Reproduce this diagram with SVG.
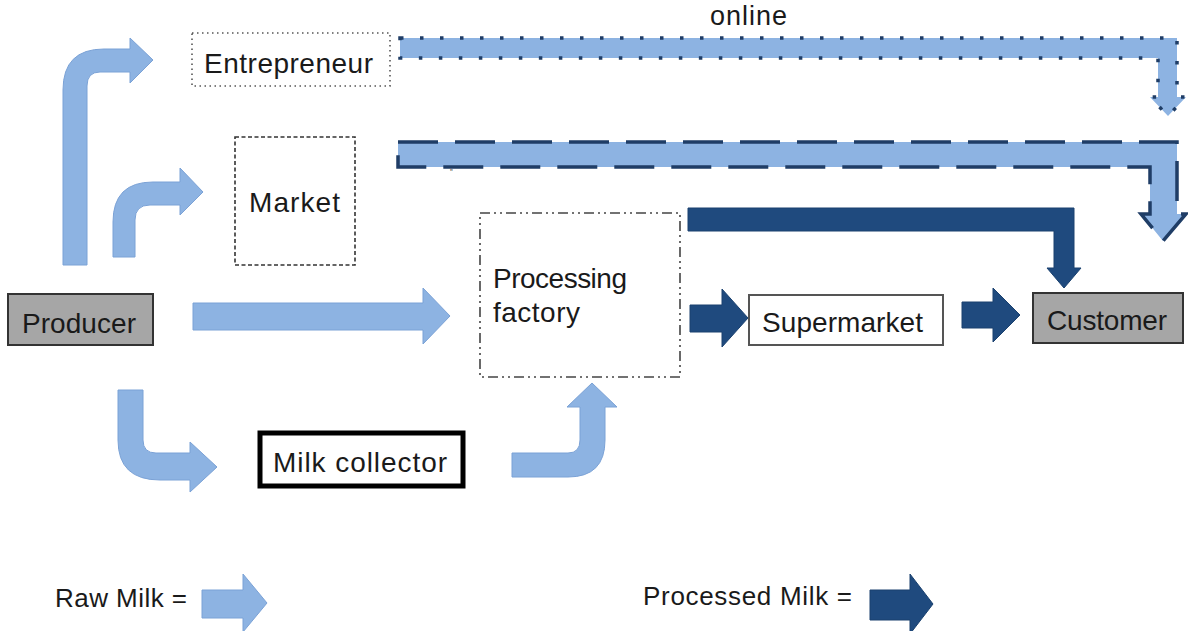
<svg xmlns="http://www.w3.org/2000/svg" width="1188" height="631" viewBox="0 0 1188 631">
<style>
.t{font-family:"Liberation Sans",Arial,sans-serif;fill:#1a1a1a}
.box{fill:#ffffff}
.raw{fill:#8db3e2;stroke:#7ba2d6;stroke-width:1}
.proc{fill:#1f4a7e;stroke:#1a416f;stroke-width:1}
.grey{fill:#a6a6a6;stroke:#333;stroke-width:2}
</style>
<rect width="1188" height="631" fill="#ffffff"/>
<g id="connectors">
  <path class="raw" d="M63,265 L63,90 Q63,49 104,49 L130,49 L130,38 L153,60 L130,83 L130,72 L100,72 Q87,72 87,86 L87,265 Z"/>
  <path class="raw" d="M113,257 L113,222 Q113,182 153,182 L180,182 L180,168 L203,192 L180,215 L180,205 L150,205 Q135,205 135,220 L135,257 Z"/>
  <path class="raw" d="M193,303 L423,303 L423,288 L450,316 L423,344 L423,330 L193,330 Z"/>
  <path class="raw" d="M118,390 L143,390 L143,440 Q143,453 156,453 L190,453 L190,442 L217,467 L190,492 L190,480 L160,480 Q118,480 118,440 Z"/>
  <path class="raw" d="M512,453 L568,453 Q580,453 580,440 L580,407 L567,407 L592,383 L617,407 L605,407 L605,440 Q605,477 568,477 L512,477 Z"/>
  <path class="proc" d="M690,305 L722,305 L722,289 L748,318 L722,347 L722,332 L690,332 Z"/>
  <path class="proc" d="M962,302 L993,302 L993,288 L1020,315 L993,342 L993,328 L962,328 Z"/>
  <path class="proc" d="M688,208 L1074,208 L1074,268 L1081,268 L1064,288 L1047,268 L1054,268 L1054,231 L688,231 Z"/>
  <path d="M400,38 L1177,38 L1177,97 L1186,97 L1168,116 L1150,97 L1158,97 L1158,58 L400,58 Z" fill="#8db3e2" stroke="#1f3d66" stroke-width="3.5" stroke-dasharray="3.5 16.5"/>
  <path d="M398,142 L1177,142 L1177,214 L1186,214 L1163,241 L1141,214 L1150,214 L1150,167 L398,167 Z" fill="#8db3e2" stroke="#1f3d66" stroke-width="3.5" stroke-dasharray="40 17"/>
  <text class="t" x="710" y="25" font-size="27" textLength="77">online</text>
  <text class="t" x="450" y="170" font-size="8" fill="#777">„</text>
</g>
<g id="entrepreneur">
  <rect class="box" x="192" y="33" width="198" height="53" stroke="#555" stroke-width="1.6" stroke-dasharray="1.5 3.5"/>
  <text class="t" x="204" y="73" font-size="28" textLength="169">Entrepreneur</text>
</g>
<g id="market">
  <rect class="box" x="235" y="137" width="120" height="128" stroke="#333" stroke-width="1.6" stroke-dasharray="4 2.5"/>
  <text class="t" x="249" y="212" font-size="28" textLength="91">Market</text>
</g>
<g id="producer">
  <rect class="grey" x="8" y="294" width="145" height="51"/>
  <text class="t" x="22" y="333" font-size="28" textLength="114">Producer</text>
</g>
<g id="milk-collector">
  <rect class="box" x="260" y="433" width="203" height="53" stroke="#000" stroke-width="5"/>
  <text class="t" x="273" y="472" font-size="28" textLength="174">Milk collector</text>
</g>
<g id="processing-factory">
  <rect class="box" x="480" y="213" width="200" height="164" stroke="#444" stroke-width="1.6" stroke-dasharray="10 4 2 4 2 4"/>
  <text class="t" x="493" y="288" font-size="28" textLength="134">Processing</text>
  <text class="t" x="493" y="322" font-size="28" textLength="87">factory</text>
</g>
<g id="supermarket">
  <rect class="box" x="749" y="295" width="194" height="50" stroke="#555" stroke-width="2"/>
  <text class="t" x="762" y="332" font-size="28" textLength="161">Supermarket</text>
</g>
<g id="customer">
  <rect class="grey" x="1033" y="293" width="150" height="50"/>
  <text class="t" x="1047" y="330" font-size="28" textLength="120">Customer</text>
</g>
<g id="legend">
  <text class="t" x="55" y="607" font-size="26" textLength="132">Raw Milk =</text>
  <path class="raw" d="M202,590 L243,590 L243,574 L267,603 L243,632 L243,618 L202,618 Z"/>
  <text class="t" x="643" y="605" font-size="26" textLength="209">Processed Milk =</text>
  <path class="proc" d="M870,590 L910,590 L910,574 L933,604 L910,634 L910,620 L870,620 Z"/>
</g>
</svg>
